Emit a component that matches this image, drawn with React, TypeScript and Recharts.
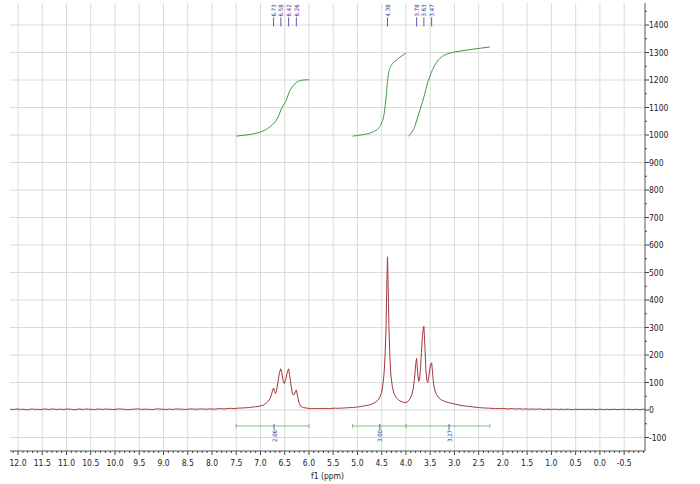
import React from 'react';
import { ComposedChart, Line, Scatter, XAxis, YAxis, CartesianGrid } from 'recharts';

// ---- spectrum (ppm, intensity) ----
const spectrum: [number, number][] = [
  [12.16, 3], [12.1, 2], [12.05, 3], [12.0, 4], [11.95, 2], [11.9, 3], [11.85, 2], [11.8, 1], [11.75, 3], [11.7, 4],
  [11.65, 2], [11.6, 3], [11.55, 2], [11.5, 2], [11.45, 4], [11.4, 3], [11.35, 2], [11.3, 4], [11.25, 3], [11.2, 2],
  [11.15, 3], [11.1, 3], [11.05, 2], [11.0, 4], [10.95, 3], [10.9, 3], [10.85, 1], [10.8, 2], [10.75, 4], [10.7, 3],
  [10.65, 2], [10.6, 4], [10.55, 3], [10.5, 3], [10.45, 2], [10.4, 2], [10.35, 4], [10.3, 3], [10.25, 2], [10.2, 4],
  [10.15, 3], [10.1, 3], [10.05, 2], [10.0, 2], [9.95, 4], [9.9, 4], [9.85, 3], [9.8, 3], [9.75, 1], [9.7, 2],
  [9.65, 3], [9.6, 3], [9.55, 4], [9.5, 4], [9.45, 2], [9.4, 3], [9.35, 3], [9.3, 3], [9.25, 2], [9.2, 2],
  [9.15, 4], [9.1, 4], [9.05, 3], [9.0, 3], [8.95, 2], [8.9, 3], [8.85, 3], [8.8, 2], [8.75, 4], [8.7, 4],
  [8.65, 3], [8.6, 3], [8.55, 2], [8.5, 3], [8.45, 4], [8.4, 4], [8.35, 3], [8.3, 3], [8.25, 4], [8.2, 4],
  [8.15, 3], [8.1, 3], [8.05, 4], [8.0, 4], [7.95, 3], [7.9, 4], [7.85, 5], [7.8, 5], [7.75, 4], [7.7, 5],
  [7.65, 6], [7.6, 6], [7.55, 5], [7.5, 6], [7.45, 7], [7.4, 7], [7.35, 8], [7.3, 8], [7.25, 9], [7.2, 10],
  [7.15, 11], [7.1, 12], [7.05, 13], [7.0, 15], [6.94, 18], [6.88, 25], [6.84, 32], [6.8, 42], [6.77, 58], [6.75, 72],
  [6.73, 80], [6.71, 68], [6.69, 60], [6.67, 70], [6.64, 100], [6.61, 135], [6.58, 150], [6.56, 135], [6.53, 105], [6.51, 97],
  [6.48, 110], [6.45, 135], [6.42, 150], [6.4, 130], [6.37, 90], [6.34, 58], [6.31, 55], [6.28, 65], [6.26, 73], [6.24, 55],
  [6.21, 28], [6.17, 14], [6.12, 9], [6.05, 7], [6.0, 6], [5.95, 5], [5.9, 6], [5.85, 5], [5.8, 5], [5.75, 6],
  [5.7, 5], [5.65, 6], [5.6, 5], [5.55, 6], [5.5, 6], [5.45, 7], [5.4, 6], [5.35, 7], [5.3, 7], [5.25, 8],
  [5.2, 8], [5.15, 9], [5.1, 9], [5.05, 10], [5.0, 11], [4.95, 12], [4.9, 14], [4.85, 15], [4.8, 17], [4.75, 19],
  [4.7, 22], [4.65, 26], [4.6, 32], [4.56, 40], [4.53, 50], [4.5, 65], [4.47, 100], [4.45, 135], [4.43, 200], [4.41, 300],
  [4.4, 400], [4.39, 490], [4.38, 557], [4.37, 480], [4.36, 390], [4.35, 300], [4.33, 190], [4.31, 125], [4.28, 85], [4.25, 62],
  [4.2, 45], [4.15, 36], [4.1, 31], [4.05, 28], [4.0, 27], [3.96, 31], [3.92, 40], [3.88, 55], [3.85, 78], [3.82, 120],
  [3.8, 165], [3.78, 188], [3.76, 140], [3.74, 104], [3.72, 110], [3.7, 150], [3.68, 210], [3.66, 270], [3.64, 300], [3.63, 305],
  [3.61, 235], [3.59, 150], [3.57, 108], [3.55, 100], [3.53, 120], [3.5, 160], [3.47, 172], [3.45, 135], [3.43, 95], [3.4, 70],
  [3.37, 56], [3.33, 46], [3.28, 38], [3.2, 31], [3.1, 26], [3.0, 22], [2.9, 18], [2.8, 15], [2.7, 13], [2.6, 11],
  [2.5, 9], [2.45, 8], [2.4, 8], [2.35, 7], [2.3, 7], [2.25, 6], [2.2, 6], [2.15, 5], [2.1, 6], [2.05, 5],
  [2.0, 6], [1.95, 5], [1.9, 4], [1.85, 5], [1.8, 5], [1.75, 4], [1.7, 4], [1.65, 5], [1.6, 3], [1.55, 4],
  [1.5, 4], [1.45, 3], [1.4, 4], [1.35, 3], [1.3, 3], [1.25, 4], [1.2, 3], [1.15, 2], [1.1, 3], [1.05, 3],
  [1.0, 2], [0.95, 3], [0.9, 3], [0.85, 2], [0.8, 3], [0.75, 2], [0.7, 3], [0.65, 3], [0.6, 2], [0.55, 2],
  [0.5, 3], [0.45, 2], [0.4, 3], [0.35, 2], [0.3, 2], [0.25, 3], [0.2, 2], [0.15, 3], [0.1, 2], [0.05, 2],
  [0.0, 3], [-0.05, 2], [-0.1, 2], [-0.15, 3], [-0.2, 2], [-0.25, 2], [-0.3, 3], [-0.35, 2], [-0.4, 2], [-0.45, 3],
  [-0.5, 2], [-0.55, 2], [-0.6, 3], [-0.65, 2], [-0.7, 2], [-0.75, 3], [-0.8, 2], [-0.85, 2], [-0.9, 3], [-0.93, 2],
];

// ---- integral curves (ppm, value) ----
const integral1: [number, number][] = [
  [7.5, 996], [7.3, 1000], [7.1, 1006], [6.95, 1014], [6.85, 1024], [6.75, 1038], [6.68, 1052], [6.62, 1072],
  [6.57, 1095], [6.53, 1108], [6.49, 1118], [6.45, 1135], [6.41, 1155], [6.37, 1168], [6.32, 1180], [6.27, 1190],
  [6.2, 1197], [6.1, 1200], [6.0, 1201],
];
const integral2: [number, number][] = [
  [5.1, 996], [4.9, 1001], [4.67, 1012], [4.57, 1024], [4.51, 1040], [4.47, 1060], [4.44, 1088], [4.42, 1120],
  [4.4, 1155], [4.38, 1195], [4.36, 1222], [4.34, 1238], [4.31, 1251], [4.27, 1261], [4.2, 1272], [4.1, 1286], [4.0, 1297],
];
const integral3: [number, number][] = [
  [3.95, 996], [3.88, 1010], [3.82, 1030], [3.77, 1058], [3.71, 1091], [3.66, 1120], [3.61, 1151], [3.56, 1185],
  [3.51, 1212], [3.45, 1238], [3.4, 1255], [3.33, 1273], [3.22, 1289], [3.09, 1298], [2.89, 1305], [2.58, 1313], [2.27, 1320],
];

// ---- peak picks and integration ranges ----
const peakPicks = ['6.73', '6.58', '6.42', '6.26', '4.38', '3.78', '3.63', '3.47'];
const integralFrom = [7.5, 5.1, 4.0];
const integralTo = [6.0, 4.0, 2.27];
const integralValues = ['2.06', '3.00', '3.27'];
const integralLabelAt = [6.72, 4.54, 3.11];

// ---- axis ticks ----
const xMajorTicks = [12.0, 11.5, 11.0, 10.5, 10.0, 9.5, 9.0, 8.5, 8.0, 7.5, 7.0, 6.5, 6.0, 5.5, 5.0, 4.5, 4.0, 3.5, 3.0, 2.5, 2.0, 1.5, 1.0, 0.5, 0.0, -0.5];
const yMajorTicks = [-100, 0, 100, 200, 300, 400, 500, 600, 700, 800, 900, 1000, 1100, 1200, 1300, 1400];

const xMinorTicks: number[] = [12.1];
xMajorTicks.forEach((t) => [0.1, 0.2, 0.3, 0.4].forEach((d) => xMinorTicks.push(Math.round((t - d) * 10) / 10)));
const xAllTicks = [...xMajorTicks, ...xMinorTicks.filter((v) => v > -0.93)].sort((a, b) => b - a);
const yAllTicks = [...yMajorTicks, ...yMajorTicks.map((v) => v + 50)].sort((a, b) => a - b);

const toPts = (arr: [number, number][]) => arr.map(([x, y]) => ({ x, y }));

const FONT = '"DejaVu Sans Condensed", "DejaVu Sans", sans-serif';
const SPEC = '#a2393c';
const INTEG = '#3f9a40';
const BARC = '#7cc47a';
const NAVY = '#34349a';
const LABEL_LEVEL = 1395;
const BAR_LEVEL = -58;

const isMajorX = (v: number) => Math.abs(v * 2 - Math.round(v * 2)) < 1e-6;

const XTick = (props: any) => {
  const { x, y, payload } = props;
  const v = payload.value as number;
  const major = isMajorX(v);
  return (
    <g>
      <line x1={x} x2={x} y1={y} y2={y + (major ? 4 : 2)} stroke="#444" strokeWidth={1} />
      {major && (
        <text x={x} y={y + 15} textAnchor="middle" fontSize={8.5} fontFamily={FONT} fill="#222">
          {v.toFixed(1)}
        </text>
      )}
    </g>
  );
};

const YTick = (props: any) => {
  const { x, y, payload } = props;
  const v = payload.value as number;
  const major = v % 100 === 0;
  return (
    <g>
      <line x1={x} x2={x + (major ? 4 : 2)} y1={y} y2={y} stroke="#444" strokeWidth={1} />
      {major && (
        <text x={x + 4} y={y + 3} textAnchor="start" fontSize={8.5} fontFamily={FONT} fill="#222">
          {v}
        </text>
      )}
    </g>
  );
};

const PeakLabel = (props: any) => {
  const { cx, cy, payload } = props;
  if (cx == null || cy == null) return null;
  return (
    <g>
      <line x1={cx} x2={cx} y1={cy} y2={cy - 9} stroke={NAVY} strokeWidth={0.8} />
      <text
        x={cx}
        y={cy - 10}
        transform={`rotate(-90 ${cx} ${cy - 10})`}
        textAnchor="start"
        dominantBaseline="central"
        fontSize={6}
        fontFamily={FONT}
        fill={NAVY}
      >
        {payload.label}
      </text>
    </g>
  );
};

const IntegralLabel = (props: any) => {
  const { cx, cy, payload } = props;
  if (cx == null || cy == null) return null;
  return (
    <g>
      <line x1={cx} x2={cx} y1={cy - 2} y2={cy + 4} stroke={NAVY} strokeWidth={0.8} />
      <text
        x={cx}
        y={cy + 4}
        transform={`rotate(-90 ${cx} ${cy + 4})`}
        textAnchor="end"
        dominantBaseline="central"
        fontSize={6}
        fontFamily={FONT}
        fill={NAVY}
      >
        {payload.label}
      </text>
    </g>
  );
};

const BarEnd = (props: any) => {
  const { cx, cy, index } = props;
  if (cx == null || cy == null) return <g key={index} />;
  return <line key={index} x1={cx} x2={cx} y1={cy - 2} y2={cy + 2} stroke={BARC} strokeWidth={1} />;
};

export default function App() {
  const peakData = peakPicks.map((p) => ({ x: parseFloat(p), y: LABEL_LEVEL, label: p }));
  const intLabelData = integralValues.map((v, i) => ({ x: integralLabelAt[i], y: BAR_LEVEL, label: v }));
  return (
    <div style={{ position: 'absolute', left: 0, top: 0, width: 700, height: 484, background: '#fff' }}>
      <ComposedChart width={700} height={484} margin={{ top: 3, right: 0, bottom: 0, left: 10 }}>
        <CartesianGrid
          stroke="#dadada"
          strokeWidth={1}
          verticalValues={xMajorTicks}
          horizontalValues={yMajorTicks}
        />
        <XAxis
          dataKey="x"
          type="number"
          reversed
          domain={[-0.93, 12.165]}
          allowDataOverflow
          ticks={xAllTicks}
          interval={0}
          tickSize={0}
          tickMargin={0}
          tickLine={false}
          tick={<XTick />}
          height={33}
          axisLine={{ stroke: '#555' }}
          label={{ value: 'f1 (ppm)', position: 'insideBottom', offset: 5, fontSize: 8.5, fontFamily: FONT, fill: '#222' }}
        />
        <YAxis
          dataKey="y"
          type="number"
          orientation="right"
          domain={[-149, 1480]}
          allowDataOverflow
          ticks={yAllTicks}
          interval={0}
          tickSize={0}
          tickMargin={0}
          tickLine={false}
          tick={<YTick />}
          width={55}
          axisLine={{ stroke: '#555' }}
        />
        <Line data={toPts(spectrum)} dataKey="y" type="linear" stroke={SPEC} strokeWidth={1} dot={false} isAnimationActive={false} />
        <Line data={toPts(integral1)} dataKey="y" type="monotone" stroke={INTEG} strokeWidth={1} dot={false} isAnimationActive={false} />
        <Line data={toPts(integral2)} dataKey="y" type="monotone" stroke={INTEG} strokeWidth={1} dot={false} isAnimationActive={false} />
        <Line data={toPts(integral3)} dataKey="y" type="monotone" stroke={INTEG} strokeWidth={1} dot={false} isAnimationActive={false} />
        {integralFrom.map((f, i) => (
          <Line
            key={'bar' + i}
            data={[{ x: f, y: BAR_LEVEL }, { x: integralTo[i], y: BAR_LEVEL }]}
            dataKey="y"
            type="linear"
            stroke={BARC}
            strokeWidth={1}
            dot={<BarEnd />}
            isAnimationActive={false}
          />
        ))}
        <Scatter data={peakData} dataKey="y" shape={<PeakLabel />} isAnimationActive={false} />
        <Scatter data={intLabelData} dataKey="y" shape={<IntegralLabel />} isAnimationActive={false} />
      </ComposedChart>
    </div>
  );
}
